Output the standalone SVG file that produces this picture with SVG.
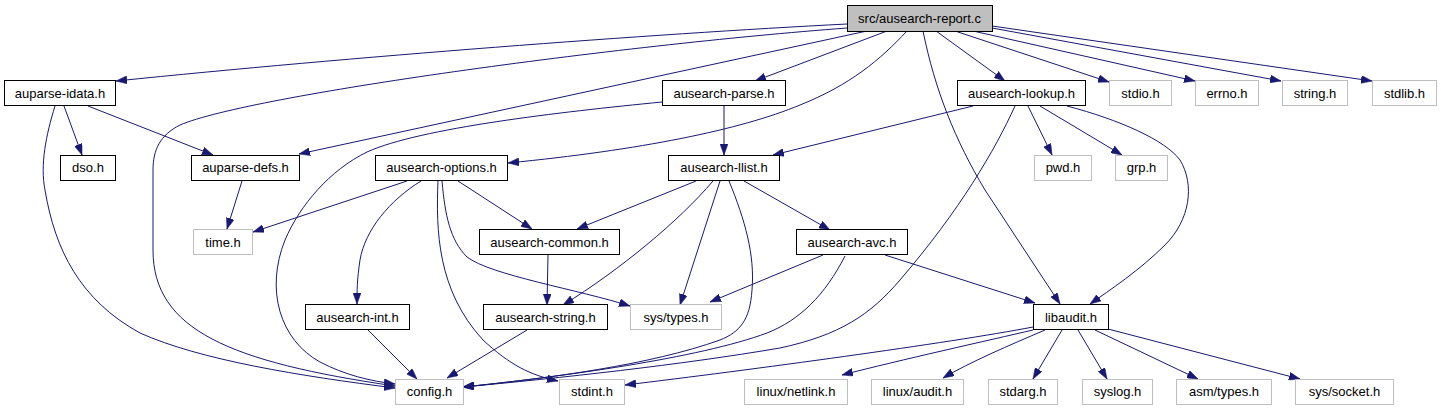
<svg xmlns="http://www.w3.org/2000/svg" width="1441" height="411" viewBox="0 0 1441 411">
<style>
.n rect{fill:#fff;stroke:#000;stroke-width:1}
.x rect{fill:#fff;stroke:#bfbfbf;stroke-width:1}
.r rect{fill:#bfbfbf;stroke:#000;stroke-width:1}
text{font-family:"Liberation Sans",Arial,sans-serif;font-size:13px;fill:#000;text-anchor:middle}
#edges path{fill:none;stroke:#191970;stroke-width:1;marker-end:url(#a)}
</style>
<defs>
<marker id="a" markerUnits="userSpaceOnUse" viewBox="0 0 11 8" markerWidth="11" markerHeight="8" refX="11" refY="4" orient="auto">
<path d="M0,0 L11,4 L0,8 z" fill="#191970" stroke="#191970" stroke-width="0.5"/>
</marker>
</defs>
<rect width="1441" height="411" fill="#fff"/>
<g id="edges">
<path d="M847,24 C650,34 350,57 116,81"/>
<path d="M847,28 C620,45 250,95 180,125 C160,135 153,150 153,170 L153,250 C153,330 230,362 395,386"/>
<path d="M867,31 L299,154"/>
<path d="M887,31 L755,81"/>
<path d="M907,31 C880,60 850,85 800,105 C740,130 640,150 508,163"/>
<path d="M923,31 C935,90 955,140 985,190 L1060,304"/>
<path d="M936,31 L1005,81"/>
<path d="M955,31 L1109,82"/>
<path d="M973,31 L1195,81"/>
<path d="M992,28 L1281,81"/>
<path d="M992,26 L1372,81"/>
<path d="M64,106 L82,155"/>
<path d="M88,106 L213,155"/>
<path d="M55,106 C46,135 40,165 45,190 C55,250 80,300 140,333 C200,360 300,376 395,388"/>
<path d="M242,181 L227,229"/>
<path d="M407,181 L253,232"/>
<path d="M421,181 C390,200 365,230 360,260 C357,280 357,290 357,304"/>
<path d="M438,181 C436,230 437,290 483,340 C510,365 530,375 558,381"/>
<path d="M442,181 C445,215 450,240 467,257 C490,275 580,290 630,306"/>
<path d="M458,181 L532,229"/>
<path d="M724,106 L724,155"/>
<path d="M662,102 C560,112 420,128 367,152 C330,170 300,205 285,240 C265,290 280,340 320,362 C345,375 370,381 395,384"/>
<path d="M973,106 L773,155"/>
<path d="M1028,106 L1052,155"/>
<path d="M1040,106 L1122,155"/>
<path d="M1067,106 C1120,120 1165,140 1180,160 C1195,185 1190,220 1165,245 C1140,270 1110,290 1090,304"/>
<path d="M1015,106 C995,150 960,210 900,280 C870,315 840,335 780,348 C680,365 560,378 463,387"/>
<path d="M696,181 L577,229"/>
<path d="M713,181 C680,220 620,270 563,305"/>
<path d="M720,181 L680,305"/>
<path d="M729,181 C745,220 755,255 752,290 C750,320 740,332 720,340 C650,365 550,378 463,387"/>
<path d="M744,181 L830,230"/>
<path d="M548,255 L547,305"/>
<path d="M823,255 L710,302"/>
<path d="M845,256 C825,295 800,320 767,333 C700,358 560,377 463,387"/>
<path d="M885,255 L1035,303"/>
<path d="M368,330 L417,379"/>
<path d="M527,330 L447,378"/>
<path d="M1033,327 C950,343 750,370 625,385"/>
<path d="M1033,330 C990,340 900,360 842,375"/>
<path d="M1045,330 C1010,345 970,362 943,378"/>
<path d="M1062,330 L1033,379"/>
<path d="M1078,330 L1107,379"/>
<path d="M1095,330 L1198,379"/>
<path d="M1108,329 L1300,379"/>
</g>
<g id="n_root" class="r"><rect x="847.5" y="5.5" width="145" height="26"/><text x="919.5" y="23">src/ausearch-report.c</text></g>
<g id="n_idata" class="n"><rect x="4.5" y="80.5" width="111" height="25"/><text x="60" y="97.5">auparse-idata.h</text></g>
<g id="n_parse" class="n"><rect x="662.5" y="80.5" width="123" height="25"/><text x="724" y="97.5">ausearch-parse.h</text></g>
<g id="n_lookup" class="n"><rect x="957.5" y="80.5" width="128" height="25"/><text x="1021.5" y="97.5">ausearch-lookup.h</text></g>
<g id="n_stdio" class="x"><rect x="1109.5" y="80.5" width="62" height="25"/><text x="1140.5" y="97.5">stdio.h</text></g>
<g id="n_errno" class="x"><rect x="1195.5" y="80.5" width="63" height="25"/><text x="1227" y="97.5">errno.h</text></g>
<g id="n_string" class="x"><rect x="1282.5" y="80.5" width="65" height="25"/><text x="1315" y="97.5">string.h</text></g>
<g id="n_stdlib" class="x"><rect x="1372.5" y="80.5" width="64" height="25"/><text x="1404.5" y="97.5">stdlib.h</text></g>
<g id="n_dso" class="n"><rect x="60.5" y="155.5" width="55" height="25"/><text x="88" y="172">dso.h</text></g>
<g id="n_defs" class="n"><rect x="191.5" y="155.5" width="108" height="25"/><text x="245.5" y="172">auparse-defs.h</text></g>
<g id="n_options" class="n"><rect x="375.5" y="155.5" width="132" height="25"/><text x="441.5" y="172">ausearch-options.h</text></g>
<g id="n_llist" class="n"><rect x="668.5" y="155.5" width="111" height="25"/><text x="724" y="172">ausearch-llist.h</text></g>
<g id="n_pwd" class="x"><rect x="1034.5" y="155.5" width="57" height="25"/><text x="1063" y="172">pwd.h</text></g>
<g id="n_grp" class="x"><rect x="1115.5" y="155.5" width="52" height="25"/><text x="1141.5" y="172">grp.h</text></g>
<g id="n_time" class="x"><rect x="193.5" y="229.5" width="59" height="25"/><text x="223" y="246.5">time.h</text></g>
<g id="n_common" class="n"><rect x="479.5" y="229.5" width="140" height="25"/><text x="549.5" y="246.5">ausearch-common.h</text></g>
<g id="n_avc" class="n"><rect x="796.5" y="229.5" width="111" height="25"/><text x="852" y="246.5">ausearch-avc.h</text></g>
<g id="n_int" class="n"><rect x="305.5" y="304.5" width="104" height="25"/><text x="357.5" y="321.5">ausearch-int.h</text></g>
<g id="n_astring" class="n"><rect x="483.5" y="304.5" width="124" height="25"/><text x="545.5" y="321.5">ausearch-string.h</text></g>
<g id="n_systypes" class="x"><rect x="630.5" y="304.5" width="91" height="25"/><text x="676" y="321.5">sys/types.h</text></g>
<g id="n_libaudit" class="n"><rect x="1033.5" y="304.5" width="75" height="25"/><text x="1071" y="321.5">libaudit.h</text></g>
<g id="n_config" class="x"><rect x="395.5" y="379.5" width="68" height="25"/><text x="429.5" y="396">config.h</text></g>
<g id="n_stdint" class="x"><rect x="559.5" y="379.5" width="65" height="25"/><text x="592" y="396">stdint.h</text></g>
<g id="n_netlink" class="x"><rect x="744.5" y="379.5" width="103" height="25"/><text x="796" y="396">linux/netlink.h</text></g>
<g id="n_laudit" class="x"><rect x="871.5" y="379.5" width="92" height="25"/><text x="917.5" y="396">linux/audit.h</text></g>
<g id="n_stdarg" class="x"><rect x="988.5" y="379.5" width="69" height="25"/><text x="1023" y="396">stdarg.h</text></g>
<g id="n_syslog" class="x"><rect x="1082.5" y="379.5" width="70" height="25"/><text x="1117.5" y="396">syslog.h</text></g>
<g id="n_asmtypes" class="x"><rect x="1176.5" y="379.5" width="95" height="25"/><text x="1224" y="396">asm/types.h</text></g>
<g id="n_socket" class="x"><rect x="1295.5" y="379.5" width="98" height="25"/><text x="1344.5" y="396">sys/socket.h</text></g>
</svg>
